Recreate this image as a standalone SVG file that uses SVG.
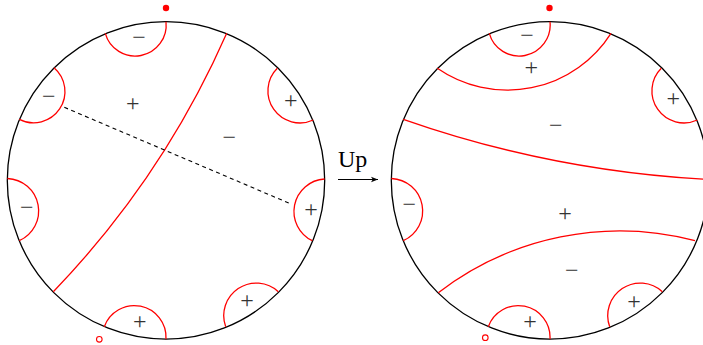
<svg xmlns="http://www.w3.org/2000/svg" width="703" height="345" viewBox="0 0 703 345">
  <style>
    .disk { fill: none; stroke: #000; stroke-width: 1.3; }
    .red { fill: none; stroke: #ff0000; stroke-width: 1.3; }
    .dash { fill: none; stroke: #000; stroke-width: 1.1; stroke-dasharray: 4 3.5; }
    .sign { font-family: "Liberation Serif", "Times New Roman", serif; font-size: 24px; fill: #333; text-anchor: middle; }
    .lbl { font-family: "Liberation Serif", "Times New Roman", serif; font-size: 24px; fill: #000; }
  </style>
  <defs>
    <marker id="ah" viewBox="0 0 10 10" refX="10" refY="5" markerWidth="7" markerHeight="7" markerUnits="userSpaceOnUse" orient="auto">
      <path d="M0,1 L10,5 L0,9 L2.5,5 Z" fill="#000"/>
    </marker>
  </defs>

  <g id="disk-left">
    <circle class="disk" cx="166" cy="180.4" r="158.7"/>
    <circle cx="166" cy="8" r="3.2" fill="#ff0000"/>
    <circle cx="99.3" cy="339.3" r="2.8" fill="none" stroke="#ff0000" stroke-width="1.1"/>
    <path class="red" d="M166 21.7 A31 31 0 0 1 105.3 33.3"/>
    <path class="red" d="M54 67.7 A31.3 31.3 0 0 1 19.3 119.3"/>
    <path class="red" d="M277.3 68.3 A32 32 0 0 0 313.3 120"/>
    <path class="red" d="M226.7 33.3 A887 887 0 0 1 53.3 291.7"/>
    <path class="red" d="M7.4 178.5 A32.5 32.5 0 0 1 19.3 240.7"/>
    <path class="red" d="M324.6 179 A32.5 32.5 0 0 0 312.3 240.7"/>
    <path class="red" d="M225.7 326.7 A32.5 32.5 0 0 1 278.3 291.7"/>
    <path class="red" d="M104.3 326.7 A31.8 31.8 0 0 1 166 339.1"/>
    <path class="dash" d="M64.3 107.3 L291.7 204.3"/>
    <text class="sign" x="139" y="45">−</text>
    <text class="sign" x="48.7" y="103.7">−</text>
    <text class="sign" x="132.7" y="111">+</text>
    <text class="sign" x="290.7" y="107.7">+</text>
    <text class="sign" x="229.3" y="145">−</text>
    <text class="sign" x="26.7" y="215">−</text>
    <text class="sign" x="311" y="216.7">+</text>
    <text class="sign" x="247" y="308.3">+</text>
    <text class="sign" x="139.7" y="328.7">+</text>
  </g>

  <g id="arrow-up">
    <text class="lbl" x="338" y="167">Up</text>
    <path d="M338 179.5 L378 179.5" stroke="#000" stroke-width="1" fill="none" marker-end="url(#ah)"/>
  </g>

  <g id="disk-right">
    <circle class="disk" cx="550" cy="180.4" r="158.7"/>
    <circle cx="549.5" cy="8" r="3.2" fill="#ff0000"/>
    <circle cx="485.3" cy="337.7" r="2.8" fill="none" stroke="#ff0000" stroke-width="1.1"/>
    <path class="red" d="M550 21.7 A31 31 0 0 1 489.3 33.3"/>
    <path class="red" d="M437.3 68.3 A123 123 0 0 0 611 33.3"/>
    <path class="red" d="M661.3 68.3 A32 32 0 0 0 697.3 120"/>
    <path class="red" d="M403.3 119.3 A1097 1097 0 0 0 708.6 179.5"/>
    <path class="red" d="M391.4 178.5 A32.5 32.5 0 0 1 403.3 240.7"/>
    <path class="red" d="M438.3 292.7 A297.5 297.5 0 0 1 695 240.7"/>
    <path class="red" d="M609.7 326.7 A32.5 32.5 0 0 1 662.3 291.7"/>
    <path class="red" d="M488.3 326.7 A31.8 31.8 0 0 1 550 339.1"/>
    <text class="sign" x="527" y="43">−</text>
    <text class="sign" x="531.3" y="75">+</text>
    <text class="sign" x="673.3" y="106">+</text>
    <text class="sign" x="555.7" y="132.7">−</text>
    <text class="sign" x="409.3" y="211.7">−</text>
    <text class="sign" x="565" y="221">+</text>
    <text class="sign" x="571.7" y="277.7">−</text>
    <text class="sign" x="634" y="308.7">+</text>
    <text class="sign" x="530" y="328.7">+</text>
  </g>
</svg>
